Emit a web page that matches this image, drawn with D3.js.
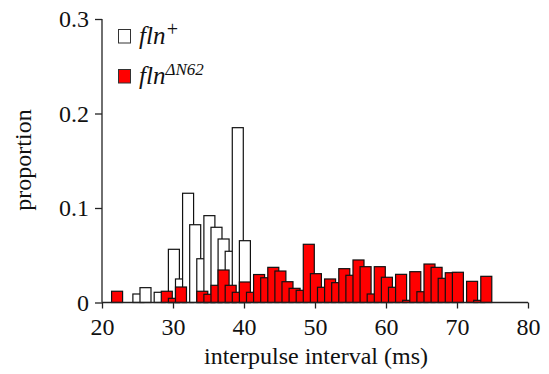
<!DOCTYPE html>
<html>
<head>
<meta charset="utf-8">
<script src="https://cdn.jsdelivr.net/npm/d3@7/dist/d3.min.js"></script>
<style>
  body { margin: 0; background: #fff; }
  svg text { font-family: "Liberation Serif", "Times New Roman", serif; fill: #111; }
</style>
</head>
<body>
<svg id="chart" width="549" height="374"></svg>
<script>
// histogram bins: left edge (ms, integer part) and proportion
let wildBins = [24, 25, 27, 29, 30, 31, 32, 33, 34, 35, 36, 37, 38, 39];
let wildVals = [0.009, 0.0157, 0.0108, 0.0563, 0.0249, 0.1156, 0.0823, 0.0463, 0.0919, 0.0796, 0.0672, 0.0542, 0.185, 0.0654];

let mutBins = [21, 28, 29, 30, 33, 34, 35, 36, 37, 38, 39, 40, 41, 42, 43, 44, 45, 46, 47, 48, 49, 50,
    51, 52, 53, 54, 55, 56, 57, 58, 59, 60, 61, 62, 63, 64, 65, 66, 67, 68, 69, 71, 72, 73];
let mutVals = [0.0119, 0.0119, 0.0044, 0.0164, 0.0119, 0.0087, 0.0182, 0.0344, 0.0182, 0.0108, 0.0217, 0.0108,
    0.0296, 0.0262, 0.0372, 0.0333, 0.022, 0.015, 0.0129, 0.0616, 0.0305, 0.0161,
    0.0249, 0.021, 0.0358, 0.0288, 0.045, 0.0379, 0.009, 0.0379, 0.0267, 0.0161, 0.0298, 0.0023,
    0.0326, 0.0114, 0.0407, 0.0372, 0.0256, 0.0315, 0.032, 0.0224, 0.0023, 0.0277];

let xTicks = [20, 30, 40, 50, 60, 70, 80];
let yTicks = [0, 0.1, 0.2, 0.3];

let binOffset = 0.35;
let binWidth = 1.55;

const svg = d3.select("#chart");

const x = d3.scaleLinear().domain([20, 80]).range([102, 528]);
const y = d3.scaleLinear().domain([0, 0.3]).range([302.5, 19]);

function drawBars(bins, vals, fill) {
    let data = bins.map((b, i) => ({ b: b, v: vals[i] }));
    svg.append("g")
        .selectAll("rect")
        .data(data)
        .join("rect")
        .attr("x", d => x(d.b + binOffset))
        .attr("width", d => x(d.b + binOffset + binWidth) - x(d.b + binOffset))
        .attr("y", d => y(d.v))
        .attr("height", d => y(0) - y(d.v))
        .attr("fill", fill)
        .attr("stroke", "#111")
        .attr("stroke-width", 1.2);
}

drawBars(wildBins, wildVals, "#fff");
drawBars(mutBins, mutVals, "#ff0000");

// axes
const yAxis = svg.append("g")
    .attr("transform", "translate(102,0)")
    .call(d3.axisLeft(y).tickValues(yTicks).tickSize(7).tickPadding(6)
        .tickFormat(d => d === 0 ? "0" : d3.format(".1f")(d)));

const xAxis = svg.append("g")
    .attr("transform", "translate(0,302.5)")
    .call(d3.axisBottom(x).tickValues(xTicks).tickSize(6).tickPadding(9));

svg.selectAll(".domain").attr("stroke", "#222").attr("stroke-width", 1.3);
svg.selectAll(".tick line").attr("stroke", "#222").attr("stroke-width", 1.3);
svg.selectAll(".tick text")
    .attr("font-size", 24)
    .attr("fill", "#111");
// drop the outer ends d3 adds to the domain path
yAxis.select(".domain").attr("d", "M0," + y(0.3) + "V" + y(0));
xAxis.select(".domain").attr("d", "M" + x(20) + ",0H" + x(80));

// axis titles
svg.append("text")
    .attr("x", x(50) + 1)
    .attr("y", 364)
    .attr("text-anchor", "middle")
    .attr("font-size", 24)
    .text("interpulse interval (ms)");

svg.append("text")
    .attr("transform", "translate(31,160) rotate(-90)")
    .attr("text-anchor", "middle")
    .attr("font-size", 24)
    .text("proportion");

// legend
let legendNames = ["+", "\u0394N62"];
let legendFills = ["#fff", "#ff0000"];
let legendRows = [43.5, 83.5];
let legendSupShift = [-8, -8.5];
let legendSupSize = [20, 17];

legendNames.forEach((name, i) => {
    svg.append("rect")
        .attr("x", 118.5)
        .attr("y", legendRows[i] - 14)
        .attr("width", 12)
        .attr("height", 13.5)
        .attr("fill", legendFills[i])
        .attr("stroke", "#333")
        .attr("stroke-width", 1);
    let t = svg.append("text")
        .attr("x", 139)
        .attr("y", legendRows[i])
        .attr("font-size", 25)
        .attr("font-style", "italic");
    t.append("tspan").text("fln");
    t.append("tspan")
        .attr("dy", legendSupShift[i])
        .attr("font-size", legendSupSize[i])
        .text(name);
});
</script>
</body>
</html>
